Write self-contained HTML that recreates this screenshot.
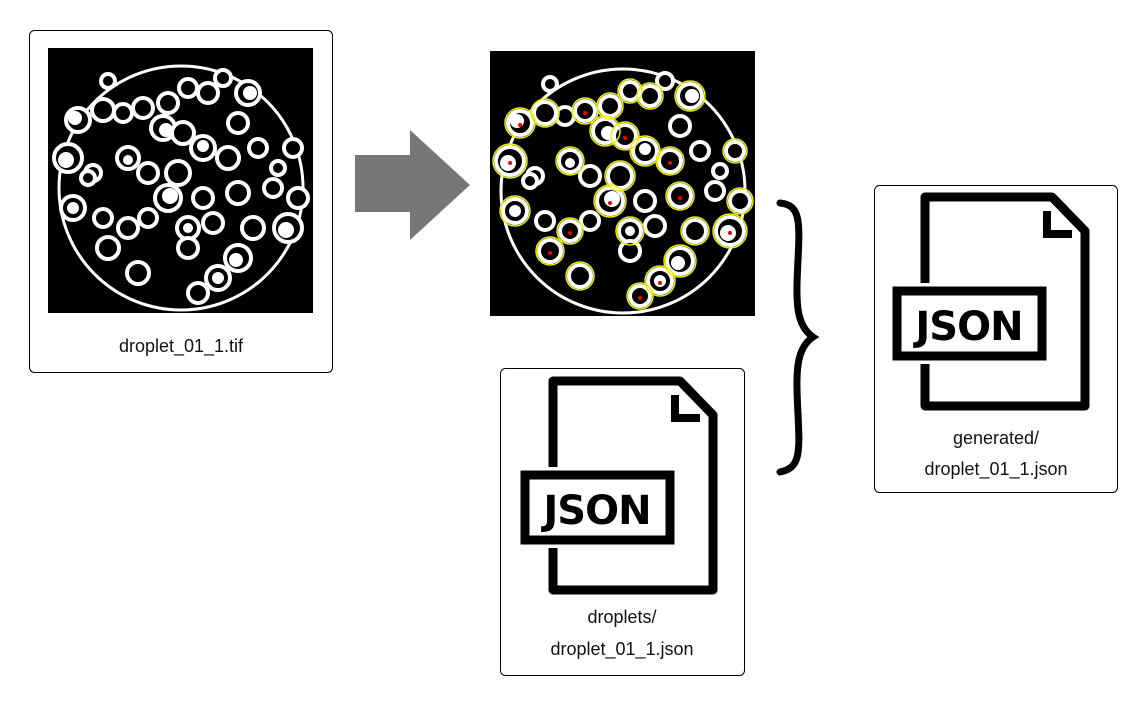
<!DOCTYPE html>
<html><head><meta charset="utf-8"><style>
body{margin:0;width:1141px;height:710px;background:#fff;overflow:hidden;font-family:"Liberation Sans",sans-serif}
</style></head><body>
<svg width="1141" height="710" viewBox="0 0 1141 710" xmlns="http://www.w3.org/2000/svg">
<defs>
<g id="dish">
<rect x="0" y="0" width="265" height="265" fill="#000"/>
<circle cx="133" cy="140" r="122" fill="none" stroke="#fff" stroke-width="3"/>
<g fill="#000" stroke="#fff" stroke-width="4">
<circle cx="30" cy="72" r="12"/><circle cx="55" cy="62" r="11"/><circle cx="75" cy="65" r="9"/><circle cx="95" cy="60" r="10"/>
<circle cx="120" cy="55" r="10"/><circle cx="140" cy="40" r="9"/><circle cx="160" cy="45" r="10"/><circle cx="175" cy="30" r="8"/>
<circle cx="200" cy="45" r="12"/><circle cx="190" cy="75" r="10"/><circle cx="115" cy="80" r="12"/><circle cx="135" cy="85" r="11"/>
<circle cx="155" cy="100" r="12"/><circle cx="180" cy="110" r="11"/><circle cx="210" cy="100" r="9"/><circle cx="245" cy="100" r="9"/>
<circle cx="20" cy="110" r="14"/><circle cx="45" cy="125" r="8"/><circle cx="80" cy="110" r="11"/><circle cx="100" cy="125" r="10"/>
<circle cx="130" cy="125" r="12"/><circle cx="120" cy="150" r="13"/><circle cx="155" cy="150" r="10"/><circle cx="190" cy="145" r="11"/>
<circle cx="225" cy="140" r="9"/><circle cx="250" cy="150" r="10"/><circle cx="25" cy="160" r="12"/><circle cx="55" cy="170" r="9"/>
<circle cx="80" cy="180" r="10"/><circle cx="100" cy="170" r="9"/><circle cx="140" cy="180" r="11"/><circle cx="165" cy="175" r="10"/>
<circle cx="205" cy="180" r="11"/><circle cx="240" cy="180" r="14"/><circle cx="60" cy="200" r="11"/><circle cx="190" cy="210" r="13"/>
<circle cx="170" cy="230" r="12"/><circle cx="90" cy="225" r="11"/><circle cx="140" cy="200" r="10"/><circle cx="150" cy="245" r="10"/>
<circle cx="40" cy="130" r="7"/><circle cx="230" cy="120" r="7"/><circle cx="60" cy="33" r="7"/>
</g>
<g fill="#fff">
<circle cx="27" cy="70" r="7"/><circle cx="118" cy="82" r="7"/><circle cx="18" cy="112" r="8"/><circle cx="122" cy="148" r="8"/>
<circle cx="238" cy="182" r="8"/><circle cx="188" cy="212" r="7"/><circle cx="155" cy="98" r="6"/><circle cx="202" cy="45" r="7"/>
<circle cx="25" cy="160" r="6"/><circle cx="170" cy="230" r="6"/><circle cx="140" cy="180" r="5"/><circle cx="80" cy="112" r="5"/>
</g>
</g>
<g id="doc">
<path d="M553 381 H680 L713 415 V590 H553 Z" fill="#fff" stroke="#000" stroke-width="9" stroke-linejoin="round"/>
<path d="M675 395 V418 H700" fill="none" stroke="#000" stroke-width="8"/>
<rect x="516" y="467" width="163" height="81" fill="#fff"/>
<rect x="525" y="475" width="145" height="65" fill="#fff" stroke="#000" stroke-width="9"/>
<text x="597" y="524" text-anchor="middle" font-family="'DejaVu Sans',sans-serif" font-weight="bold" font-size="40" letter-spacing="-1" fill="#000">JSON</text>
</g>
</defs>
<rect x="29.5" y="30.5" width="303" height="342" rx="5" fill="#fff" stroke="#000"/>
<use href="#dish" x="48" y="48"/>
<text x="181" y="352" text-anchor="middle" font-size="18" fill="#111">droplet_01_1.tif</text>

<path d="M355 155 H410 V130 L470 185 L410 240 V212 H355 Z" fill="#777"/>

<use href="#dish" x="490" y="51"/>
<g transform="translate(490 51)" fill="none" stroke="#ee0" stroke-width="1.5">
<circle cx="30" cy="72" r="15"/><circle cx="55" cy="62" r="14"/><circle cx="95" cy="60" r="13"/><circle cx="120" cy="55" r="13"/>
<circle cx="140" cy="40" r="12"/><circle cx="160" cy="45" r="13"/><circle cx="200" cy="45" r="15"/><circle cx="115" cy="80" r="15"/>
<circle cx="135" cy="85" r="14"/><circle cx="155" cy="100" r="15"/><circle cx="180" cy="110" r="14"/><circle cx="245" cy="100" r="12"/>
<circle cx="20" cy="110" r="17"/><circle cx="80" cy="110" r="14"/><circle cx="130" cy="125" r="15"/><circle cx="120" cy="150" r="16"/>
<circle cx="190" cy="145" r="14"/><circle cx="250" cy="150" r="13"/><circle cx="25" cy="160" r="15"/><circle cx="80" cy="180" r="13"/>
<circle cx="140" cy="180" r="14"/><circle cx="205" cy="180" r="14"/><circle cx="240" cy="180" r="17"/><circle cx="60" cy="200" r="14"/>
<circle cx="190" cy="210" r="16"/><circle cx="170" cy="230" r="15"/><circle cx="90" cy="225" r="14"/><circle cx="150" cy="245" r="13"/>
</g>
<g transform="translate(490 51)" fill="#e00">
<circle cx="30" cy="74" r="2"/><circle cx="95" cy="62" r="2"/><circle cx="135" cy="87" r="2"/><circle cx="180" cy="112" r="2"/>
<circle cx="20" cy="112" r="2"/><circle cx="120" cy="152" r="2"/><circle cx="190" cy="147" r="2"/><circle cx="60" cy="202" r="2"/>
<circle cx="170" cy="232" r="2"/><circle cx="240" cy="182" r="2"/><circle cx="150" cy="247" r="2"/><circle cx="80" cy="182" r="2"/>
</g>

<path d="M780 203 C800 205 800 220 798 260 C796 300 795 325 813 337 C795 349 796 374 798 414 C800 454 800 468 780 472" fill="none" stroke="#000" stroke-width="7" stroke-linecap="round"/>

<rect x="500.5" y="368.5" width="244" height="307" rx="5" fill="#fff" stroke="#000"/>
<use href="#doc"/>
<text x="622" y="623" text-anchor="middle" font-size="18" fill="#111">droplets/</text>
<text x="622" y="655" text-anchor="middle" font-size="18" fill="#111">droplet_01_1.json</text>

<rect x="874.5" y="185.5" width="243" height="307" rx="5" fill="#fff" stroke="#000"/>
<use href="#doc" transform="translate(372 -184)"/>
<text x="996" y="444" text-anchor="middle" font-size="18" fill="#111">generated/</text>
<text x="996" y="475" text-anchor="middle" font-size="18" fill="#111">droplet_01_1.json</text>
</svg>
</body></html>
